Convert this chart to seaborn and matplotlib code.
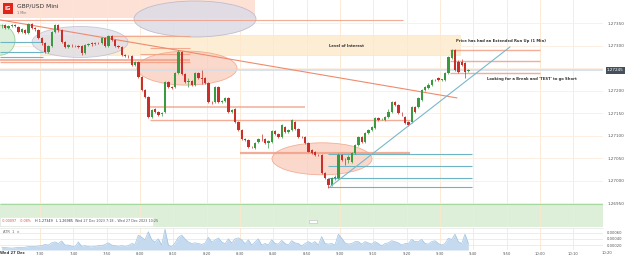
import numpy as np
import seaborn as sns
import matplotlib
matplotlib.use("Agg")
import matplotlib.pyplot as plt
from matplotlib.patches import Ellipse, Rectangle
import matplotlib.transforms as mtransforms
from matplotlib.ticker import FixedFormatter

sns.set_style("white")
plt.rcParams['font.family'] = ['DejaVu Sans']

# ---------------- data ----------------
minutes = np.arange(141)  # minutes after 07:18, 1-minute candles

opens = [
    1.27343, 1.27345, 1.27339, 1.27343, 1.27345, 1.27341, 1.27330, 1.27334, 1.27328, 1.27347,
    1.27339, 1.27334, 1.27316, 1.27305, 1.27286, 1.27299, 1.27330, 1.27345, 1.27334, 1.27308,
    1.27297, 1.27300, 1.27299, 1.27300, 1.27299, 1.27283, 1.27301, 1.27305, 1.27303, 1.27306,
    1.27305, 1.27316, 1.27299, 1.27321, 1.27312, 1.27299, 1.27297, 1.27279, 1.27277, 1.27277,
    1.27257, 1.27263, 1.27230, 1.27202, 1.27186, 1.27142, 1.27160, 1.27153, 1.27148, 1.27153,
    1.27219, 1.27208, 1.27208, 1.27239, 1.27286, 1.27237, 1.27219, 1.27221, 1.27213, 1.27239,
    1.27228, 1.27228, 1.27217, 1.27175, 1.27175, 1.27208, 1.27175, 1.27177, 1.27184, 1.27153,
    1.27160, 1.27131, 1.27113, 1.27093, 1.27091, 1.27076, 1.27073, 1.27087, 1.27093, 1.27093,
    1.27084, 1.27087, 1.27111, 1.27104, 1.27098, 1.27120, 1.27109, 1.27113, 1.27131, 1.27115,
    1.27098, 1.27098, 1.27084, 1.27069, 1.27065, 1.27058, 1.27058, 1.27018, 1.27005, 1.26992,
    1.27007, 1.27007, 1.27058, 1.27047, 1.27047, 1.27042, 1.27062, 1.27080, 1.27098, 1.27087,
    1.27107, 1.27113, 1.27118, 1.27140, 1.27137, 1.27135, 1.27142, 1.27153, 1.27175, 1.27168,
    1.27151, 1.27142, 1.27131, 1.27131, 1.27164, 1.27164, 1.27179, 1.27202, 1.27206, 1.27213,
    1.27224, 1.27228, 1.27224, 1.27224, 1.27239, 1.27272, 1.27290, 1.27263, 1.27263, 1.27261,
    1.27244]
closes = [
    1.27344, 1.27339, 1.27343, 1.27345, 1.27344, 1.27330, 1.27336, 1.27328, 1.27347, 1.27339,
    1.27337, 1.27316, 1.27305, 1.27286, 1.27299, 1.27330, 1.27345, 1.27334, 1.27308, 1.27297,
    1.27301, 1.27299, 1.27300, 1.27298, 1.27283, 1.27301, 1.27303, 1.27303, 1.27306, 1.27305,
    1.27316, 1.27299, 1.27321, 1.27312, 1.27299, 1.27297, 1.27279, 1.27277, 1.27276, 1.27257,
    1.27263, 1.27230, 1.27202, 1.27186, 1.27142, 1.27157, 1.27153, 1.27146, 1.27150, 1.27219,
    1.27208, 1.27207, 1.27239, 1.27286, 1.27237, 1.27219, 1.27221, 1.27213, 1.27239, 1.27228,
    1.27227, 1.27217, 1.27175, 1.27174, 1.27208, 1.27175, 1.27177, 1.27184, 1.27153, 1.27157,
    1.27131, 1.27113, 1.27093, 1.27091, 1.27076, 1.27075, 1.27084, 1.27093, 1.27092, 1.27084,
    1.27089, 1.27111, 1.27104, 1.27098, 1.27124, 1.27109, 1.27113, 1.27135, 1.27115, 1.27098,
    1.27097, 1.27084, 1.27065, 1.27062, 1.27058, 1.27057, 1.27018, 1.27007, 1.26992, 1.27007,
    1.27008, 1.27058, 1.27047, 1.27046, 1.27053, 1.27062, 1.27080, 1.27098, 1.27087, 1.27107,
    1.27113, 1.27120, 1.27140, 1.27135, 1.27137, 1.27142, 1.27153, 1.27175, 1.27168, 1.27151,
    1.27150, 1.27129, 1.27124, 1.27164, 1.27153, 1.27184, 1.27202, 1.27208, 1.27213, 1.27224,
    1.27223, 1.27224, 1.27225, 1.27239, 1.27274, 1.27290, 1.27246, 1.27241, 1.27257, 1.27241,
    1.27246]
highs = [
    1.27347, 1.27348, 1.27345, 1.27347, 1.27347, 1.27343, 1.27338, 1.27336, 1.27349, 1.27349,
    1.27341, 1.27336, 1.27318, 1.27307, 1.27302, 1.27332, 1.27348, 1.27347, 1.27336, 1.27310,
    1.27304, 1.27303, 1.27302, 1.27302, 1.27301, 1.27304, 1.27305, 1.27307, 1.27308, 1.27308,
    1.27318, 1.27318, 1.27324, 1.27323, 1.27314, 1.27301, 1.27299, 1.27281, 1.27279, 1.27279,
    1.27266, 1.27265, 1.27232, 1.27204, 1.27188, 1.27160, 1.27162, 1.27155, 1.27153, 1.27221,
    1.27221, 1.27210, 1.27241, 1.27290, 1.27289, 1.27240, 1.27228, 1.27223, 1.27242, 1.27241,
    1.27246, 1.27230, 1.27219, 1.27177, 1.27210, 1.27210, 1.27179, 1.27187, 1.27186, 1.27160,
    1.27162, 1.27133, 1.27115, 1.27095, 1.27093, 1.27078, 1.27086, 1.27095, 1.27103, 1.27095,
    1.27091, 1.27113, 1.27113, 1.27106, 1.27126, 1.27122, 1.27115, 1.27138, 1.27133, 1.27117,
    1.27100, 1.27100, 1.27086, 1.27071, 1.27067, 1.27060, 1.27060, 1.27020, 1.27007, 1.27009,
    1.27012, 1.27061, 1.27060, 1.27050, 1.27058, 1.27064, 1.27082, 1.27100, 1.27100, 1.27109,
    1.27115, 1.27122, 1.27142, 1.27142, 1.27139, 1.27144, 1.27160, 1.27178, 1.27177, 1.27170,
    1.27153, 1.27144, 1.27133, 1.27166, 1.27166, 1.27186, 1.27204, 1.27210, 1.27216, 1.27226,
    1.27226, 1.27230, 1.27227, 1.27241, 1.27276, 1.27292, 1.27292, 1.27268, 1.27270, 1.27263,
    1.27248]
lows = [
    1.27340, 1.27337, 1.27337, 1.27342, 1.27342, 1.27328, 1.27328, 1.27326, 1.27326, 1.27337,
    1.27333, 1.27314, 1.27302, 1.27283, 1.27284, 1.27297, 1.27328, 1.27331, 1.27305, 1.27294,
    1.27295, 1.27296, 1.27297, 1.27295, 1.27280, 1.27281, 1.27299, 1.27300, 1.27301, 1.27303,
    1.27303, 1.27297, 1.27297, 1.27310, 1.27296, 1.27295, 1.27277, 1.27275, 1.27273, 1.27255,
    1.27254, 1.27228, 1.27199, 1.27183, 1.27140, 1.27140, 1.27150, 1.27143, 1.27145, 1.27150,
    1.27205, 1.27204, 1.27206, 1.27237, 1.27235, 1.27216, 1.27208, 1.27210, 1.27211, 1.27226,
    1.27215, 1.27215, 1.27172, 1.27171, 1.27173, 1.27172, 1.27172, 1.27175, 1.27150, 1.27150,
    1.27129, 1.27110, 1.27090, 1.27088, 1.27073, 1.27072, 1.27070, 1.27085, 1.27089, 1.27082,
    1.27073, 1.27085, 1.27102, 1.27095, 1.27096, 1.27107, 1.27106, 1.27111, 1.27113, 1.27096,
    1.27095, 1.27082, 1.27063, 1.27060, 1.27056, 1.27055, 1.27016, 1.27004, 1.26985, 1.26989,
    1.27003, 1.27005, 1.27044, 1.27036, 1.27040, 1.27040, 1.27060, 1.27078, 1.27085, 1.27085,
    1.27105, 1.27111, 1.27116, 1.27133, 1.27134, 1.27133, 1.27140, 1.27151, 1.27166, 1.27149,
    1.27145, 1.27126, 1.27121, 1.27129, 1.27151, 1.27162, 1.27177, 1.27200, 1.27204, 1.27211,
    1.27221, 1.27222, 1.27222, 1.27222, 1.27237, 1.27270, 1.27244, 1.27239, 1.27255, 1.27228,
    1.27242]
atr = [
    0.00013, 0.00012, 0.00011, 0.00010, 0.00011, 0.00013, 0.00012, 0.00013, 0.00015, 0.00016,
    0.00015, 0.00017, 0.00018, 0.00022, 0.00020, 0.00027, 0.00030, 0.00025, 0.00033, 0.00020,
    0.00020, 0.00016, 0.00014, 0.00030, 0.00016, 0.00018, 0.00015, 0.00014, 0.00016, 0.00018,
    0.00018, 0.00022, 0.00027, 0.00020, 0.00018, 0.00016, 0.00018, 0.00016, 0.00018, 0.00025,
    0.00022, 0.00052, 0.00045, 0.00037, 0.00063, 0.00037, 0.00030, 0.00040, 0.00020, 0.00071,
    0.00020, 0.00014, 0.00027, 0.00045, 0.00052, 0.00040, 0.00030, 0.00025, 0.00027, 0.00025,
    0.00022, 0.00026, 0.00045, 0.00030, 0.00036, 0.00043, 0.00030, 0.00024, 0.00040, 0.00027,
    0.00040, 0.00043, 0.00037, 0.00024, 0.00037, 0.00020, 0.00030, 0.00040, 0.00020, 0.00025,
    0.00020, 0.00037, 0.00025, 0.00023, 0.00035, 0.00025, 0.00020, 0.00034, 0.00027, 0.00025,
    0.00017, 0.00025, 0.00031, 0.00025, 0.00031, 0.00020, 0.00047, 0.00025, 0.00023, 0.00025,
    0.00020, 0.00055, 0.00042, 0.00027, 0.00023, 0.00025, 0.00031, 0.00031, 0.00023, 0.00031,
    0.00027, 0.00023, 0.00031, 0.00025, 0.00017, 0.00025, 0.00027, 0.00034, 0.00031, 0.00027,
    0.00020, 0.00025, 0.00025, 0.00038, 0.00031, 0.00031, 0.00038, 0.00025, 0.00023, 0.00031,
    0.00034, 0.00025, 0.00020, 0.00025, 0.00042, 0.00038, 0.00055, 0.00031, 0.00025, 0.00055,
    0.00025]

price_ticks = [1.26950, 1.27000, 1.27050, 1.27100, 1.27150, 1.27200, 1.27250, 1.27300, 1.27350]
price_labels = ["1.26950", "1.27000", "1.27050", "1.27100", "1.27150", "1.27200", "", "1.27300", "1.27350"]
atr_ticks = [0.00020, 0.00040, 0.00060]
atr_labels = ["0.00020", "0.00040", "0.00060"]
time_ticks = [12, 22, 32, 42, 52, 62, 72, 82, 92, 102, 112, 122, 132, 142, 152, 162, 172, 182]
time_labels = ["7:30", "7:40", "7:50", "8:00", "8:10", "8:20", "8:30", "8:40", "8:50",
               "9:00", "9:10", "9:20", "9:30", "9:40", "9:50", "10:00", "10:10", "10:20"]
last_price = 1.27245

# drawings (time in minutes after 07:18, price)
salmon_levels = [1.27357, 1.27321, 1.27295, 1.27281, 1.27268, 1.27264, 1.27164, 1.27135, 1.27062,
                 1.27290, 1.27266, 1.27239]
salmon_start = [0, 33, 45, 42, 0, 0, 45, 45, 72, 135, 135, 135]
salmon_end = [121, 57, 57, 57, 57, 57, 91.5, 123, 123, 162, 162, 162]
salmon_lw = [0.8, 0.8, 0.8, 0.8, 1.3, 1.0, 1.1, 1.0, 1.6, 1.0, 1.0, 1.0]
teal_levels = [1.27060, 1.27033, 1.27007, 1.26987, 1.27308, 1.27286, 1.27275]
teal_start = [98.4, 98.4, 98.4, 98.4, 0, 0, 0]
teal_end = [141.6, 141.6, 141.6, 141.6, 12.9, 12.9, 12.9]
down_trend_t = [0, 137.1]
down_trend_p = [1.27357, 1.27184]
up_trend_t = [99, 153]
up_trend_p = [1.26987, 1.27297]

# ---------------- figure ----------------
fig = plt.figure(figsize=(6.25, 2.57), dpi=100)
fig.patch.set_facecolor("white")
ax = fig.add_axes([0, 30 / 257, 603 / 625, 227 / 257])
axa = fig.add_axes([0, 7 / 257, 603 / 625, 22 / 257])

XMAX = 180.9
YTOP, YBOT = 1.274011, 1.268978
grid_c = "#fde6cc"

for a in (ax, axa):
    a.set_xlim(0, XMAX)
    for s in a.spines.values():
        s.set_visible(False)
    a.set_xticks(time_ticks[:-1])
    a.grid(axis="x", color=grid_c, lw=0.6, zorder=0)
    a.set_axisbelow(True)

ax.set_ylim(YBOT, YTOP)
ax.yaxis.tick_right()
ax.set_yticks(price_ticks)
ax.yaxis.set_major_formatter(FixedFormatter(price_labels))
ax.tick_params(axis="y", length=0, pad=3, labelsize=3, labelcolor="#555555")
ax.tick_params(axis="x", length=0, labelbottom=False)
ax.grid(axis="y", color="#fdeedd", lw=0.6, zorder=0)

# background zones
ax.add_patch(Rectangle((0, 1.27361), 76.5, YTOP - 1.27361 + 0.0001, fc="#fde1d6", ec="none", zorder=0.5))
ax.add_patch(Rectangle((12, 1.27279), 126, 0.00044, fc="#fde9c9", ec="#fbdcb0", lw=0.4, alpha=0.8, zorder=0.5))
ax.add_patch(Rectangle((0, YBOT), XMAX, 1.26949 - YBOT, fc="#ddefd8", ec="none", zorder=0.5))
ax.hlines(1.26949, 0, XMAX, color="#a6d89f", lw=0.8, zorder=0.6)

# ellipses
ax.add_patch(Ellipse((0, 1.27312), 9, 0.000665, fc="#d8eed6", ec="#92cd92", lw=0.6, alpha=0.9, zorder=1))
ax.add_patch(Ellipse((24, 1.27308), 28.8, 0.000687, fc="#dedce6", ec="#bcb8c8", lw=0.6, alpha=0.75, zorder=1))
ax.add_patch(Ellipse((58.5, 1.27359), 36.6, 0.000798, fc="#dedce6", ec="#bcb8c8", lw=0.6, alpha=0.9, zorder=1))
ax.add_patch(Ellipse((56.1, 1.27250), 30, 0.000754, fc="#f9cdbb", ec="#f09a7c", lw=0.6, alpha=0.75, zorder=1))
ax.add_patch(Ellipse((96.6, 1.27049), 30, 0.00071, fc="#f9cdbb", ec="#f09a7c", lw=0.6, alpha=0.75, zorder=1))

# current price line
ax.hlines(last_price, 0, XMAX, color="#d3dde8", lw=1.2, zorder=1.2)

# horizontal level lines
for lv, s0, s1, lw in zip(salmon_levels, salmon_start, salmon_end, salmon_lw):
    ax.hlines(lv, s0, s1, color="#f29f84", lw=lw, alpha=0.85, zorder=1.5)
for lv, s0, s1 in zip(teal_levels, teal_start, teal_end):
    ax.hlines(lv, s0, s1, color="#6db5c3", lw=0.8, zorder=1.5)
ax.plot(down_trend_t, down_trend_p, color="#f08a6c", lw=0.8, zorder=1.6)
ax.plot(up_trend_t, up_trend_p, color="#79b8cc", lw=0.8, zorder=3.5)

# candles
o = np.array(opens); c = np.array(closes); h = np.array(highs); l = np.array(lows)
xs = minutes + 0.5
up = c >= o
cols = np.where(up, "#3b9a40", "#c9302c")
ax.vlines(xs, l, h, colors=cols, lw=0.5, zorder=3)
body_lo = np.minimum(o, c)
body_h = np.maximum(np.abs(c - o), 0.000012)
ax.bar(xs, body_h, bottom=body_lo, width=0.7, color=cols, edgecolor="none", zorder=3.2)

# texts on chart
ax.text(104, 1.27299, "Level of Interest", fontsize=2.7, color="#333333", ha="center", va="center",
        fontweight="bold", zorder=4)
ax.text(136.8, 1.27310, "Price has had an Extended Run Up (1 Min)", fontsize=2.7, color="#333333",
        ha="left", va="center", fontweight="bold", zorder=4)
ax.text(146.1, 1.27226, "Looking for a Break and 'TEST' to go Short", fontsize=2.7, color="#333333",
        ha="left", va="center", fontweight="bold", zorder=4)

# last price tag
trans = mtransforms.blended_transform_factory(ax.transAxes, ax.transData)
ax.text(1.0 + 4 / 603, last_price, "1.27245", transform=trans, fontsize=3, color="white",
        ha="left", va="center", clip_on=False, zorder=10,
        bbox=dict(boxstyle="square,pad=0.35", fc="#46505c", ec="none"))

# header
fig.patches.append(Rectangle((3 / 625, 1 - 14 / 257), 10 / 625, 11 / 257,
                             transform=fig.transFigure, fc="#e2231a", ec="none"))
fig.text(8 / 625, 1 - 8.5 / 257, "IG", fontsize=4, color="white", fontweight="bold",
         ha="center", va="center")
fig.text(17 / 625, 1 - 6 / 257, "GBP/USD Mini", fontsize=4.3, color="#333333", ha="left", va="center")
fig.text(17 / 625, 1 - 12.5 / 257, "1 Min", fontsize=2.4, color="#777777", ha="left", va="center")

# info row
fig.patches.append(Rectangle((0, 1 - 226 / 257), 153 / 625, 9 / 257, transform=fig.transFigure,
                             fc="white", ec="#e4e4e4", lw=0.4))
info_y = 1 - 221.5 / 257
fig.text(2 / 625, info_y, "-0.00097", fontsize=2.4, color="#d9534f", va="center")
fig.text(20 / 625, info_y, "-0.08%", fontsize=2.4, color="#d9534f", va="center")
fig.text(35 / 625, info_y, "H 1.27349", fontsize=2.4, color="#333333", va="center")
fig.text(56 / 625, info_y, "L 1.26985", fontsize=2.4, color="#333333", va="center")
fig.text(75 / 625, info_y, "Wed 27 Dec 2023 7:18 \u2013 Wed 27 Dec 2023 10:25", fontsize=2.4,
         color="#555555", va="center")
fig.patches.append(Rectangle((309 / 625, 1 - 223 / 257), 8 / 625, 3 / 257, transform=fig.transFigure,
                             fc="white", ec="#bbbbbb", lw=0.4))
fig.lines.append(plt.Line2D([0, 603 / 625], [1 - 227.5 / 257] * 2, transform=fig.transFigure,
                            color="#e6e6e6", lw=0.5))

# ATR panel
axa.set_ylim(0.00004, 0.00075)
axa.fill_between(xs, atr, 0.00004, color="#c5daee", lw=0, zorder=1)
sns.lineplot(x=xs, y=atr, ax=axa, color="#a2c3e2", lw=0.5, zorder=2)
axa.yaxis.tick_right()
axa.set_yticks(atr_ticks)
axa.yaxis.set_major_formatter(FixedFormatter(atr_labels))
axa.tick_params(axis="y", length=0, pad=3, labelsize=2.7, labelcolor="#555555")
axa.grid(axis="y", color=grid_c, lw=0.6, zorder=0)
axa.set_ylabel("")
axa.set_xticklabels(time_labels[:-1])
axa.tick_params(axis="x", length=0, pad=1.5, labelsize=2.7, labelcolor="#555555")
tb = mtransforms.blended_transform_factory(axa.transData, axa.transAxes)
axa.text(time_ticks[-1], -0.15, time_labels[-1], transform=tb, fontsize=2.7, color="#555555",
         ha="center", va="center", clip_on=False)
axa.text(3.6, -0.15, "Wed 27 Dec", transform=tb, fontsize=2.7, color="#333333", fontweight="bold",
         ha="center", va="center", clip_on=False)
axa.text(0.9, 0.82, "ATR  1  \u00d7", transform=tb, fontsize=2.6, color="#666666",
         ha="left", va="center")

fig.savefig("out.png", dpi=100, facecolor="white")
